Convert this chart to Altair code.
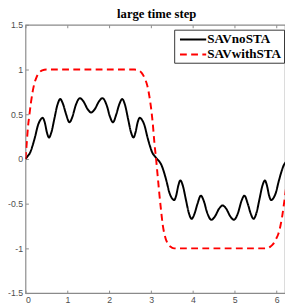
import altair as alt
import pandas as pd

series_names = ["SAVnoSTA", "SAVwithSTA"]

# black curve (SAVnoSTA)
x_no = [0.00, 0.05, 0.11, 0.17, 0.23, 0.30, 0.36, 0.41, 0.46, 0.51, 0.56, 0.62, 0.69, 0.76, 0.83,
        0.90, 0.97, 1.05, 1.12, 1.20, 1.30, 1.39, 1.48, 1.57, 1.66, 1.75, 1.84, 1.94, 2.02, 2.09,
        2.17, 2.24, 2.31, 2.38, 2.45, 2.52, 2.58, 2.63, 2.68, 2.73, 2.78, 2.84, 2.91, 2.97, 3.03,
        3.09, 3.14, 3.20, 3.25, 3.31, 3.37, 3.44, 3.50, 3.55, 3.60, 3.65, 3.70, 3.76, 3.83, 3.90,
        3.97, 4.04, 4.11, 4.19, 4.26, 4.34, 4.44, 4.53, 4.62, 4.71, 4.80, 4.89, 4.98, 5.08, 5.16,
        5.23, 5.31, 5.38, 5.45, 5.52, 5.59, 5.66, 5.72, 5.77, 5.82, 5.87, 5.92, 5.98, 6.05, 6.11,
        6.17, 6.23, 6.283]
y_no = [0.00, 0.03, 0.07, 0.15, 0.25, 0.38, 0.44, 0.46, 0.41, 0.30, 0.24, 0.30, 0.45, 0.60, 0.67,
        0.61, 0.50, 0.41, 0.47, 0.60, 0.68, 0.64, 0.56, 0.52, 0.56, 0.64, 0.68, 0.60, 0.47, 0.41,
        0.50, 0.61, 0.67, 0.60, 0.45, 0.30, 0.24, 0.30, 0.41, 0.46, 0.44, 0.38, 0.25, 0.15, 0.07,
        0.03, 0.00, -0.03, -0.07, -0.15, -0.25, -0.38, -0.44, -0.46, -0.41, -0.30, -0.24, -0.30, -0.45, -0.60,
        -0.67, -0.61, -0.50, -0.41, -0.47, -0.60, -0.68, -0.64, -0.56, -0.52, -0.56, -0.64, -0.68, -0.60, -0.47,
        -0.41, -0.50, -0.61, -0.67, -0.60, -0.45, -0.30, -0.24, -0.30, -0.41, -0.46, -0.44, -0.38, -0.25, -0.15,
        -0.07, -0.03, 0.00]

# red dashed curve (SAVwithSTA)
x_with = [0.00, 0.03, 0.06, 0.09, 0.13, 0.17, 0.21, 0.26, 0.32, 0.40, 0.50, 1.00, 1.50, 2.00,
          2.60, 2.70, 2.78, 2.85, 2.91, 2.96, 3.00, 3.04, 3.08, 3.12, 3.16, 3.20, 3.24, 3.28,
          3.33, 3.39, 3.46, 3.55, 3.70, 4.20, 4.70, 5.20, 5.75, 5.85, 5.92, 5.98, 6.04, 6.09,
          6.13, 6.17, 6.20, 6.23, 6.26, 6.283]
y_with = [0.00, 0.18, 0.36, 0.48, 0.63, 0.75, 0.84, 0.91, 0.96, 0.99, 1.00, 1.00, 1.00, 1.00,
          1.00, 0.99, 0.96, 0.90, 0.82, 0.70, 0.57, 0.40, 0.18, 0.00, -0.20, -0.40, -0.58, -0.74,
          -0.86, -0.94, -0.98, -1.00, -1.00, -1.00, -1.00, -1.00, -1.00, -0.98, -0.95, -0.90, -0.84, -0.75,
          -0.65, -0.52, -0.42, -0.30, -0.14, 0.00]

x_ticks = [0, 1, 2, 3, 4, 5, 6]
y_ticks = [-1.5, -1, -0.5, 0, 0.5, 1, 1.5]

df = pd.concat([
    pd.DataFrame({"x": x_no, "y": y_no, "series": series_names[0]}),
    pd.DataFrame({"x": x_with, "y": y_with, "series": series_names[1]}),
], ignore_index=True)

GRAY = "#8a8a8a"
LABEL = "#4d4d4d"

xscale = alt.Scale(domain=[0, 6.2], nice=False, zero=False)
yscale = alt.Scale(domain=[-1.5, 1.5], nice=False, zero=False)

legend = alt.Legend(
    title=None, orient="none", legendX=153, legendY=5,
    symbolType="M-0.6,0H3.4", symbolSize=182, symbolStrokeWidth=2,
    labelFont="Liberation Serif", labelFontWeight="bold", labelFontSize=13.5,
    labelColor="black", labelOffset=16, padding=2, rowPadding=0.5,
    strokeColor="#333333", fillColor="white", labelLimit=200,
)
color = alt.Color("series:N", scale=alt.Scale(domain=series_names, range=["#000000", "#ff0000"]), legend=legend)
dash = alt.StrokeDash("series:N", scale=alt.Scale(domain=series_names, range=[[1, 0], [7, 4.5]]), legend=legend)

label_axis_x = alt.Axis(values=x_ticks, ticks=False, tickSize=0, domain=False, grid=False,
                        labelExpr="'' + datum.value", labelPadding=3, labelFont="Liberation Sans",
                        labelFontSize=9, labelColor=LABEL, title=None)
label_axis_y = alt.Axis(values=y_ticks, ticks=False, tickSize=0, domain=False, grid=False,
                        labelExpr="'' + datum.value", labelPadding=3, labelFont="Liberation Sans",
                        labelFontSize=9, labelColor=LABEL, title=None)

lines = alt.Chart(df).mark_line(strokeWidth=2, clip=True, interpolate="monotone").encode(
    x=alt.X("x:Q", scale=xscale, axis=label_axis_x),
    y=alt.Y("y:Q", scale=yscale, axis=label_axis_y),
    color=color,
    strokeDash=dash,
)

tick_bottom_left = alt.Chart(df).mark_line(opacity=0, clip=True).encode(
    x=alt.X("x:Q", scale=xscale, axis=alt.Axis(orient="bottom", offset=-3, tickSize=3, values=x_ticks,
                                               labels=False, domain=False, grid=False, tickColor=GRAY, title=None)),
    y=alt.Y("y:Q", scale=yscale, axis=alt.Axis(orient="left", offset=-3, tickSize=3, values=y_ticks,
                                               labels=False, domain=False, grid=False, tickColor=GRAY, title=None)),
    detail="series:N",
)

tick_top = alt.Chart(df).mark_line(opacity=0, clip=True).encode(
    x=alt.X("x:Q", scale=xscale, axis=alt.Axis(orient="top", offset=-3, tickSize=3, values=x_ticks,
                                               labels=False, domain=False, grid=False, tickColor=GRAY, title=None)),
    y=alt.Y("y:Q", scale=yscale, axis=None),
    detail="series:N",
)

chart = alt.layer(lines, tick_bottom_left, tick_top).resolve_axis(
    x="independent", y="independent"
).properties(
    width=267, height=276,
    autosize=alt.AutoSizeParams(type="none"),
    padding={"left": 18, "top": 13, "right": 0, "bottom": 10},
    title=alt.Title("large time step", font="Liberation Serif", fontSize=13, fontWeight="bold",
                    color="black", offset=0.5, anchor="middle", dx=1.5),
    background="white",
).configure_view(stroke=GRAY, strokeWidth=1.2)

chart.save("out.html", embed_options={"renderer": "svg", "actions": False})
